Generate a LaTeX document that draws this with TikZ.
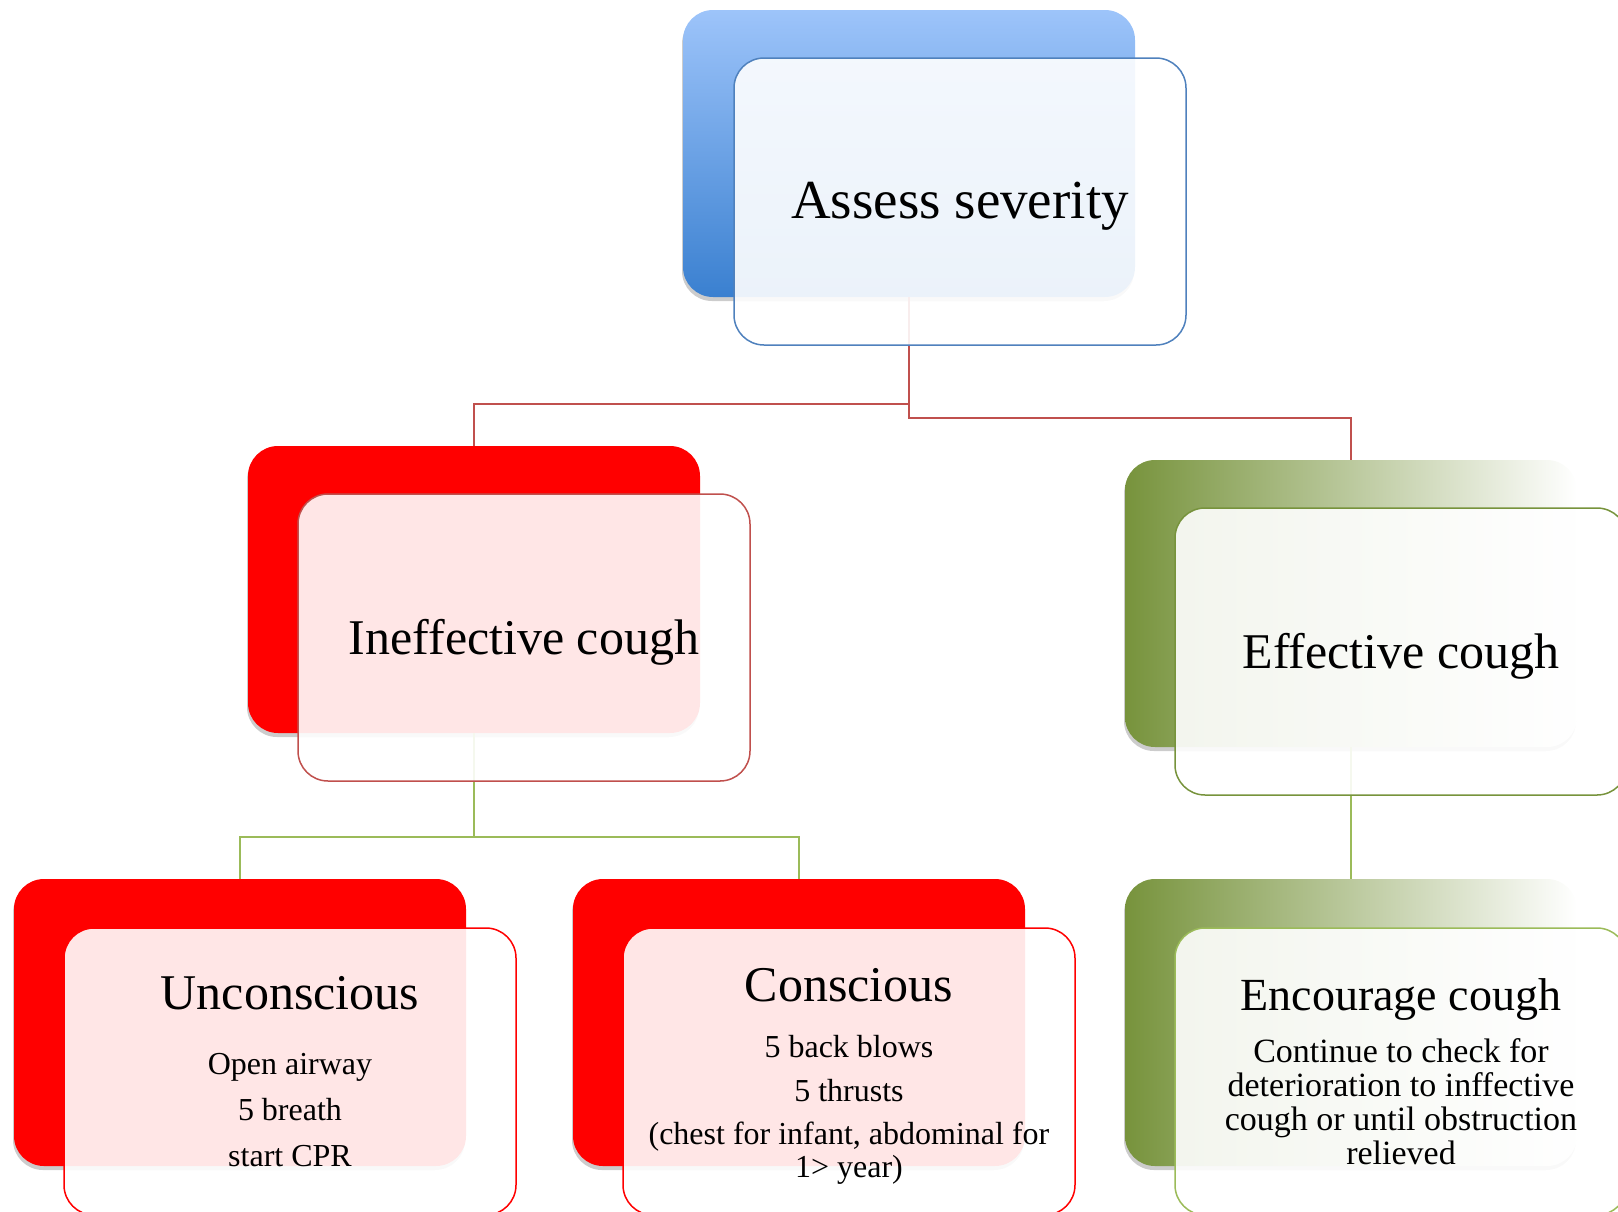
\documentclass[tikz,border=0pt]{standalone}
\usepackage{fontspec}
\setmainfont{Liberation Serif}
\usetikzlibrary{shadows,positioning}

\definecolor{blueTop}{RGB}{157,196,250}
\definecolor{blueBot}{RGB}{58,128,208}
\definecolor{blueLine}{RGB}{79,129,189}
\definecolor{redLine}{RGB}{192,80,77}
\definecolor{grnDark}{RGB}{119,147,60}
\definecolor{grnLine}{RGB}{155,187,89}

\newcommand{\headfont}{\fontsize{50}{55}\selectfont}

\tikzset{
  back/.style={rounded corners=30pt, minimum width=452pt, minimum height=287pt,
    drop shadow={shadow xshift=-1pt, shadow yshift=-4pt, opacity=0.2, fill=black}},
  front/.style={rounded corners=30pt, minimum width=452pt, minimum height=287pt,
    fill=white, fill opacity=0.9, text opacity=1, line width=1.5pt, align=center,
    font=\fontsize{32}{33}\selectfont},
  title/.style={front, text depth=2pt},
  redback/.style={back, fill=red},
  grnback/.style={back, left color=grnDark, middle color=grnDark!35, right color=white},
  link/.style={line width=2pt}
}

\begin{document}
\begin{tikzpicture}[x=1pt,y=-1pt]
  \useasboundingbox (0,0) rectangle (1618,1211);
  \clip (0,0) rectangle (1618,1211);

  % back cards
  \node[back, top color=blueTop, bottom color=blueBot] (sevB) at (909,153.5) {};
  \node[redback] (inefB) at (474,589.5) {};
  \node[grnback] (effB) at (1351,603.5) {};
  \node[redback] (uncB) at (240,1022.5) {};
  \node[redback] (conB) at (799,1022.5) {};
  \node[grnback] (encB) at (1351,1022.5) {};

  % connectors
  \draw[link, redLine] (sevB.south) -- ++(0,107) -| (inefB.north);
  \draw[link, redLine] (sevB.south) -- ++(0,121) -| (effB.north);
  \draw[link, grnLine] (inefB.south) -- ++(0,104) -| (uncB.north);
  \draw[link, grnLine] (inefB.south) -- ++(0,104) -| (conB.north);
  \draw[link, grnLine] (effB.south) -- (encB.north);

  % front cards
  \node[title, draw=blueLine, font=\fontsize{55}{60}\selectfont] (sev) at ([xshift=51pt,yshift=-48pt]sevB.center) {Assess severity};
  \node[title, draw=redLine, font=\headfont] (inef) at ([xshift=50pt,yshift=-48pt]inefB.center) {Ineffective cough};
  \node[title, draw=grnDark, font=\headfont] (eff) at ([xshift=50pt,yshift=-48pt]effB.center) {Effective cough};
  \node[front, draw=red] (unc) at ([xshift=50pt,yshift=-49pt]uncB.center)
    {{\headfont Unconscious}\\[32pt] Open airway\\[13pt] 5 breath\\[13pt] start CPR};
  \node[front, draw=red] (con) at ([xshift=50pt,yshift=-49pt]conB.center)
    {{\headfont\rule{0pt}{43pt}Conscious}\\[23pt] 5 back blows\\[11pt] 5 thrusts\\[10pt] (chest for infant, abdominal for\\ 1> year)};
  \node[front, draw=grnLine, font=\fontsize{34}{34}\selectfont] (enc) at ([xshift=50pt,yshift=-49pt]encB.center)
    {{\fontsize{46}{50}\selectfont Encourage cough}\\[18pt] Continue to check for\\ deterioration to inffective\\ cough or until obstruction\\ relieved};
\end{tikzpicture}
\end{document}
